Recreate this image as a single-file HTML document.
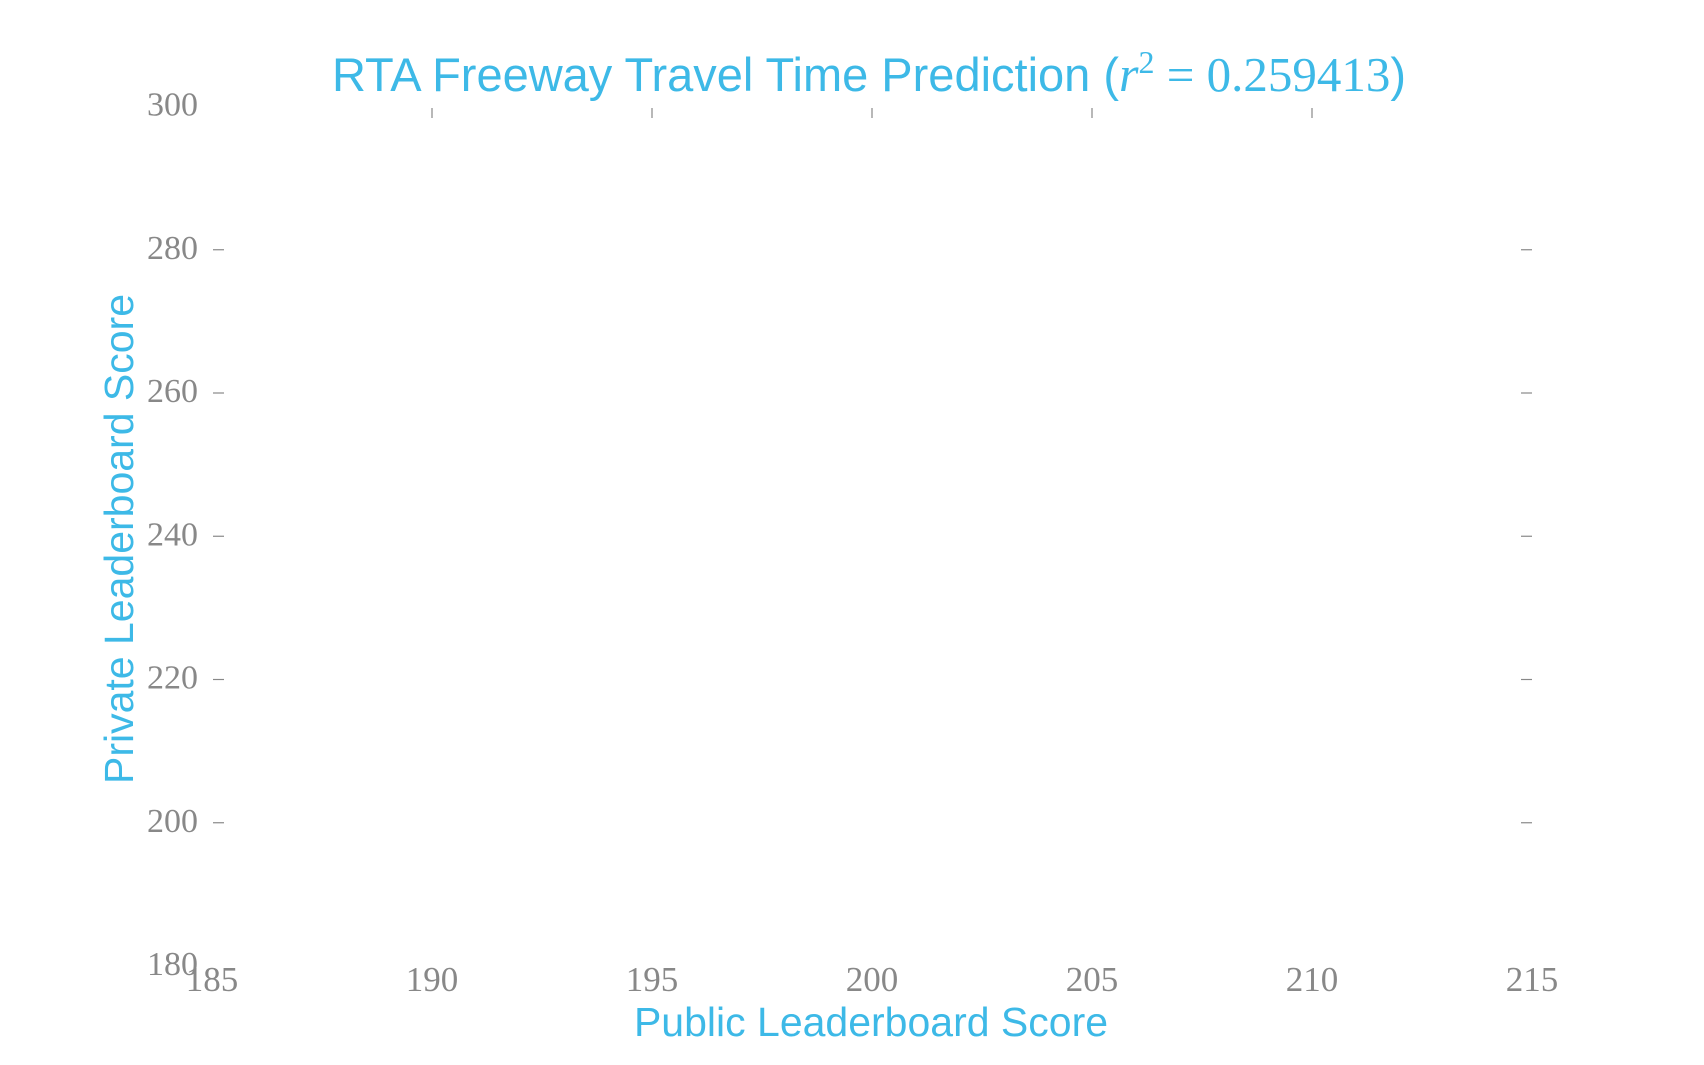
<!DOCTYPE html>
<html><head><meta charset="utf-8"><style>
html,body{margin:0;padding:0;background:#fff;}
svg{display:block;}
</style></head><body>
<svg id="chart" width="1704" height="1065" viewBox="0 0 1704 1065" xmlns="http://www.w3.org/2000/svg">
<text x="869" y="91" text-anchor="middle" fill="#3db9e7" font-family="Liberation Sans, sans-serif" font-size="47">RTA Freeway Travel Time Prediction (<tspan font-family="Liberation Serif, serif" font-style="italic" font-size="50">r</tspan><tspan font-family="Liberation Serif, serif" font-size="32" dy="-18">2</tspan><tspan font-family="Liberation Serif, serif" font-size="49" dy="18"> = 0.259413</tspan>)</text>
<text x="871" y="1036" text-anchor="middle" fill="#3db9e7" font-family="Liberation Sans, sans-serif" font-size="41">Public Leaderboard Score</text>
<text x="0" y="0" transform="translate(133,539) rotate(-90)" text-anchor="middle" fill="#3db9e7" font-family="Liberation Sans, sans-serif" font-size="41">Private Leaderboard Score</text>
<g id="axes"></g>
<g id="points"></g>
</svg>
<script>
const xTicks = [185, 190, 195, 200, 205, 210, 215];
const yTicks = [180, 200, 220, 240, 260, 280, 300];
const publicScores = [];
const privateScores = [];

const NS = 'http://www.w3.org/2000/svg';
function xScale(v){ return 212 + (v - 185) * 44; }
function yScale(v){ return 966 - (v - 180) * 7.1625; }
const axes = document.getElementById('axes');
function mk(tag, attrs, parent){
  const e = document.createElementNS(NS, tag);
  for (const k in attrs) e.setAttribute(k, attrs[k]);
  parent.appendChild(e);
  return e;
}
xTicks.forEach(function(t){
  const x = xScale(t);
  if (t !== 185 && t !== 215) {
    const tk = mk('line', {x1:x, x2:x, y1:108, y2:118, stroke:'#888', 'stroke-width':1.2}, axes);
    
    
  }
  const lb = mk('text', {x:x, y:991, 'text-anchor':'middle', fill:'#888', 'font-family':'Liberation Serif, serif', 'font-size':35}, axes);
  lb.textContent = t;
  
  
});
yTicks.forEach(function(t){
  const y = yScale(t);
  if (t !== 180 && t !== 300) {
    const tl = mk('line', {x1:213, x2:224, y1:y, y2:y, stroke:'#888', 'stroke-width':1.2}, axes);
    
    
    const tr = mk('line', {x1:1521, x2:1532, y1:y, y2:y, stroke:'#888', 'stroke-width':1.2}, axes);
    
    
  }
  const lb = mk('text', {x:198, y:y + 9, 'text-anchor':'end', fill:'#888', 'font-family':'Liberation Serif, serif', 'font-size':34}, axes);
  lb.textContent = t;
  
  
});
const pts = document.getElementById('points');
publicScores.forEach(function(v, i){
  const c = mk('circle', {cx:xScale(v), cy:yScale(privateScores[i]), r:5, fill:'#3db9e7'}, pts);
  
  
});
</script>
</body></html>
